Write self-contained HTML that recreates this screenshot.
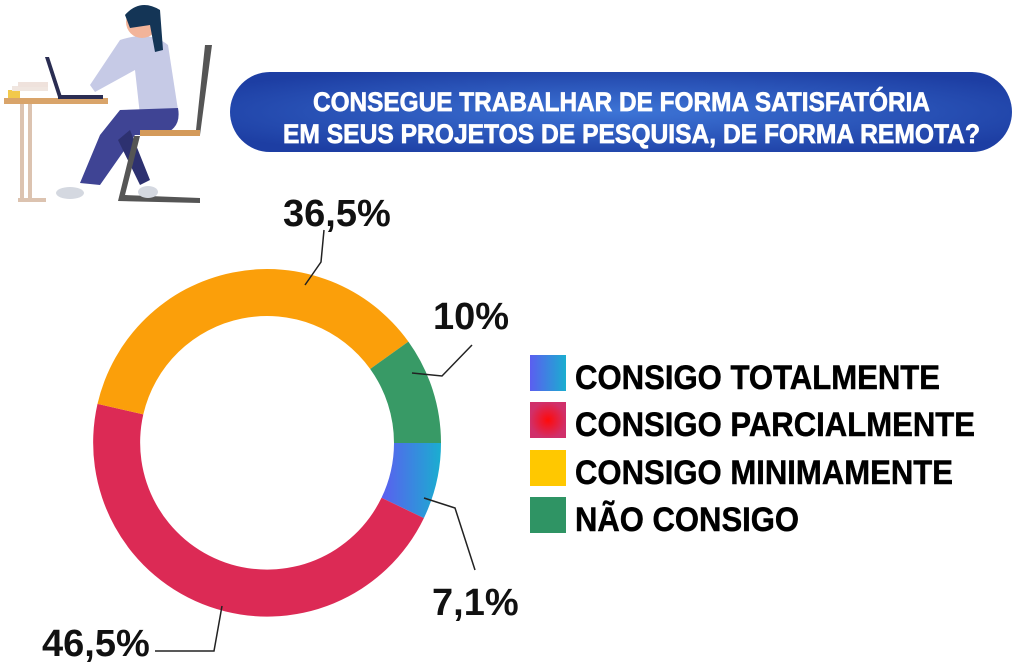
<!DOCTYPE html>
<html><head><meta charset="utf-8"><style>
html,body{margin:0;padding:0;background:#fff;}
svg{display:block;}
</style></head><body>
<svg width="1024" height="662" viewBox="0 0 1024 662" xmlns="http://www.w3.org/2000/svg">
<defs>
<radialGradient id="ban" cx="50%" cy="50%" r="60%">
<stop offset="0" stop-color="#3d74d6"/><stop offset="1" stop-color="#1d3ea3"/>
</radialGradient>
<linearGradient id="blu" x1="0" y1="0" x2="1" y2="0"><stop offset="0" stop-color="#5b5ef0"/><stop offset="1" stop-color="#1aaed0"/></linearGradient>
<radialGradient id="red"><stop offset="0" stop-color="#ff0a0a"/><stop offset="1" stop-color="#d0306a"/></radialGradient>
</defs>
<g>
<rect x="4" y="98" width="104" height="6" fill="#d9a46a"/>
<rect x="20" y="104" width="4" height="96" fill="#dcc3b0"/>
<rect x="28" y="104" width="4" height="96" fill="#dcc3b0"/>
<rect x="18" y="198" width="28" height="4" fill="#dcc3b0"/>
<rect x="8" y="90" width="12" height="8" fill="#f2c94c"/>
<rect x="12" y="86" width="36" height="5" fill="#f0e6e0"/>
<rect x="18" y="82" width="30" height="5" fill="#efe2dc"/>
<polygon points="45,57 49,57 62,97 58,97" fill="#2a2d52"/>
<rect x="58" y="95" width="45" height="4" fill="#2a2d52"/>
<path d="M120 40 Q150 30 168 45 L178 110 L140 115 L135 70 L95 92 L90 85 Z" fill="#c6cae6"/>
<path d="M120 110 L178 108 Q182 130 160 135 L135 135 L100 185 L80 183 L100 135 Z" fill="#3f4494"/>
<path d="M130 130 L150 180 L140 185 L118 140 Z" fill="#2d3170"/>
<circle cx="142" cy="22" r="16" fill="#f2b49a"/>
<path d="M125 15 Q140 -2 160 10 L163 50 L155 52 L150 25 L130 28 Z" fill="#143556"/>
<polygon points="205,45 212,45 200,135 140,135 140,130 196,130" fill="#555"/>
<rect x="140" y="130" width="60" height="6" fill="#d49a5a"/>
<path d="M140 136 L125 195 L200 198 L200 203 L118 201 L134 136 Z" fill="#555"/>
<ellipse cx="70" cy="193" rx="14" ry="6" fill="#d4d8e0"/>
<ellipse cx="148" cy="192" rx="10" ry="6" fill="#d4d8e0"/>
</g>
<rect x="230" y="72" width="782" height="80" rx="40" fill="url(#ban)"/>
<g font-family="'Liberation Sans Narrow','Liberation Sans',sans-serif" font-weight="bold" font-size="27" fill="#fff" stroke="#fff" stroke-width="0.7">
<text x="313" y="111" textLength="617" lengthAdjust="spacingAndGlyphs">CONSEGUE TRABALHAR DE FORMA SATISFATÓRIA</text>
<text x="283" y="143" textLength="697" lengthAdjust="spacingAndGlyphs">EM SEUS PROJETOS DE PESQUISA, DE FORMA REMOTA?</text>
</g>
<g transform="translate(267,443)">
<path d="M174 0 A174 174 0 0 1 156.9 75.1 L114.5 54.8 A127 127 0 0 0 127 0 Z" fill="url(#blu)"/>
<path d="M156.9 75.1 A174 174 0 0 1 -169.5 -39.1 L-123.7 -28.6 A127 127 0 0 0 114.5 54.8 Z" fill="#dc2a55"/>
<path d="M-169.5 -39.1 A174 174 0 0 1 141.4 -101.4 L103.2 -74.0 A127 127 0 0 0 -123.7 -28.6 Z" fill="#fb9f0a"/>
<path d="M141.4 -101.4 A174 174 0 0 1 174 0 L127 0 A127 127 0 0 0 103.2 -74.0 Z" fill="#389a66"/>
</g>
<g stroke="#222" stroke-width="1.5" fill="none">
<polyline points="305,285 321,262 324,230"/>
<polyline points="412,373 442,376 472,345"/>
<polyline points="424,498 455,508 475,570"/>
<polyline points="222,606 214,651 155,651"/>
</g>
<g font-family="'Liberation Sans',Arial,sans-serif" font-weight="bold" font-size="38" fill="#111">
<text x="283" y="226">36,5%</text>
<text x="433" y="329">10%</text>
<text x="432" y="615">7,1%</text>
<text x="42" y="656">46,5%</text>
</g>
<rect x="530" y="355" width="36" height="36" fill="url(#blu)"/>
<rect x="530" y="402" width="36" height="36" fill="url(#red)"/>
<rect x="530" y="450" width="36" height="36" fill="#ffc800"/>
<rect x="530" y="497" width="36" height="36" fill="#2f9464"/>
<g font-family="'Liberation Sans',Arial,sans-serif" font-weight="bold" font-size="34" fill="#000" stroke="#000" stroke-width="0.5">
<text x="575" y="389" textLength="365" lengthAdjust="spacingAndGlyphs">CONSIGO TOTALMENTE</text>
<text x="575" y="436" textLength="400" lengthAdjust="spacingAndGlyphs">CONSIGO PARCIALMENTE</text>
<text x="575" y="484" textLength="378" lengthAdjust="spacingAndGlyphs">CONSIGO MINIMAMENTE</text>
<text x="575" y="531" textLength="224" lengthAdjust="spacingAndGlyphs">NÃO CONSIGO</text>
</g>
</svg>
</body></html>
